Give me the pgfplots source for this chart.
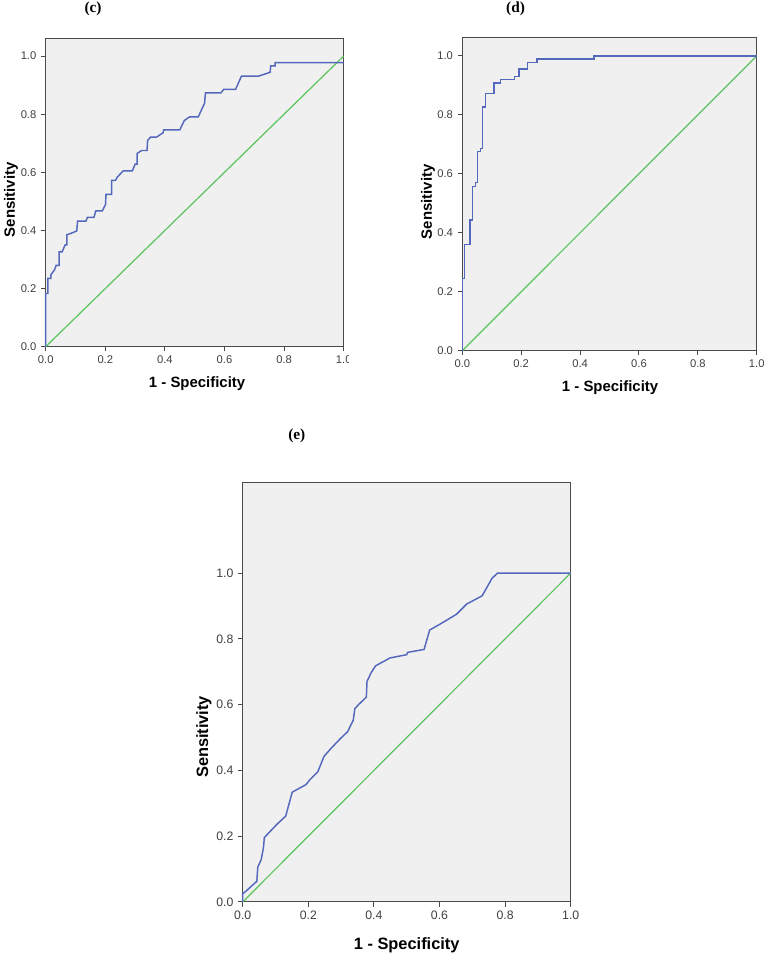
\documentclass[border=0pt]{standalone}
\usepackage{fontspec}
\setmainfont{Liberation Sans}
\newfontfamily\timesf{Liberation Serif}
\usepackage{pgfplots}
\pgfplotsset{compat=1.18}

\definecolor{bgc}{HTML}{F0F0F0}
\definecolor{framec}{HTML}{4A4A4A}
\definecolor{roc}{RGB}{84,104,188}
\definecolor{ref}{RGB}{92,196,92}

\pgfplotsset{
  rocstyle/.style={
    scale only axis,
    xmin=0, xmax=1, ymin=0,
    xtick={0,0.2,0.4,0.6,0.8,1},
    xticklabels={0.0,0.2,0.4,0.6,0.8,1.0},
    ytick={0,0.2,0.4,0.6,0.8,1},
    yticklabels={0.0,0.2,0.4,0.6,0.8,1.0},
    axis background/.style={fill=bgc},
    axis line style={draw=framec, line width=0.75pt},
    tick style={draw=framec, line width=0.75pt},
    tick align=outside, tick pos=left,
    major tick length=3.5pt,
    ticklabel style={text=black!75},
    clip=false,
    xlabel={1 - Specificity},
    ylabel={Sensitivity},
    xlabel style={anchor=center, font=\fontsize{11.2}{13}\selectfont\bfseries},
    ylabel style={anchor=center, rotate=0, font=\fontsize{11.2}{13}\selectfont\bfseries},
    every axis title shift=0pt,
    title style={anchor=center, font=\fontsize{11.5}{13}\selectfont\timesf\bfseries},
  },
  rocline/.style={color=roc, line width=1.1pt},
  refline/.style={color=ref, line width=0.9pt},
}

\begin{document}
\begin{tikzpicture}
\path[use as bounding box] (0,0) rectangle (573.75pt,718.5pt);

% (c)
\begin{axis}[rocstyle,
  at={(34.28pt,458.48pt)}, anchor=south west,
  width=223.5pt, height=231.3pt, ymax=1.061,
  ticklabel style={font=\fontsize{8.4}{9}\selectfont},
  title={(c)},
  title style={at={(axis description cs:0.159,1.095)}},
  xlabel style={at={(axis description cs:0.508,-0.121)}},
  ylabel style={at={(axis description cs:-0.116,0.476)}},
]
\addplot[refline] coordinates {(0,0) (1,1)};
\addplot[rocline] coordinates {
(0,0) (0,0.183) (0.007,0.183) (0.007,0.235) (0.017,0.235) (0.017,0.247)
(0.030,0.265) (0.035,0.280) (0.045,0.280) (0.045,0.326) (0.055,0.326)
(0.065,0.350) (0.071,0.350) (0.071,0.385) (0.085,0.390) (0.104,0.398)
(0.107,0.432) (0.135,0.432) (0.140,0.445) (0.162,0.445) (0.168,0.467)
(0.190,0.467) (0.201,0.490) (0.202,0.524) (0.221,0.524) (0.221,0.572)
(0.234,0.572) (0.240,0.583) (0.260,0.605) (0.291,0.605) (0.300,0.628)
(0.307,0.628) (0.307,0.665) (0.322,0.675) (0.340,0.675) (0.342,0.710)
(0.352,0.721) (0.372,0.721) (0.394,0.736) (0.396,0.746) (0.450,0.746)
(0.465,0.778) (0.483,0.791) (0.512,0.791) (0.533,0.837) (0.536,0.873)
(0.588,0.873) (0.597,0.885) (0.637,0.885) (0.657,0.931) (0.715,0.931)
(0.753,0.944) (0.755,0.966) (0.770,0.966) (0.770,0.977) (1.000,0.977)
};
\end{axis}
% the 1.0 label of (c) is cut off in the original
\fill[white] (261.4pt,437pt) rectangle (274pt,456pt);

% (d)
\begin{axis}[rocstyle,
  at={(346.73pt,455.48pt)}, anchor=south west,
  width=220.8pt, height=234.75pt, ymax=1.062,
  ticklabel style={font=\fontsize{8.4}{9}\selectfont},
  title={(d)},
  title style={at={(axis description cs:0.181,1.092)}},
  xlabel style={at={(axis description cs:0.502,-0.119)}},
  ylabel style={at={(axis description cs:-0.1165,0.476)}},
]
\addplot[refline] coordinates {(0,0) (1,1)};
\addplot[rocline] coordinates {
(0,0) (0,0.245) (0.008,0.245) (0.008,0.361) (0.026,0.361) (0.026,0.443)
(0.034,0.443) (0.034,0.557) (0.045,0.557) (0.045,0.570) (0.052,0.570)
(0.052,0.675) (0.062,0.675) (0.062,0.686) (0.069,0.686) (0.069,0.827)
(0.078,0.827) (0.078,0.873) (0.107,0.873) (0.107,0.908) (0.130,0.908)
(0.130,0.921) (0.177,0.921) (0.177,0.931) (0.193,0.931) (0.193,0.955)
(0.221,0.955) (0.221,0.977) (0.253,0.977) (0.253,0.989) (0.447,0.989)
(0.447,1.000) (1,1)
};
\end{axis}

% (e)
\begin{axis}[rocstyle,
  at={(182.03pt,42pt)}, anchor=south west,
  width=246pt, height=314.25pt, ymax=1.274,
  ticklabel style={font=\fontsize{9.2}{10}\selectfont},
  title={(e)},
  title style={at={(axis description cs:0.165,1.113)}},
  xlabel style={at={(axis description cs:0.5,-0.103)}, font=\fontsize{12.3}{14}\selectfont\bfseries},
  ylabel style={at={(axis description cs:-0.118,0.394)}, font=\fontsize{12.3}{14}\selectfont\bfseries},
]
\addplot[refline] coordinates {(0,0) (1,1)};
\addplot[rocline] coordinates {
(0,0) (0,0.025) (0.010,0.033) (0.043,0.063) (0.046,0.106) (0.056,0.128)
(0.063,0.163) (0.066,0.196) (0.104,0.236) (0.131,0.261) (0.151,0.334)
(0.193,0.357) (0.205,0.372) (0.229,0.396) (0.248,0.443) (0.271,0.469)
(0.297,0.496) (0.320,0.518) (0.337,0.553) (0.342,0.588) (0.353,0.600)
(0.377,0.623) (0.379,0.671) (0.392,0.698) (0.405,0.718) (0.449,0.742)
(0.500,0.752) (0.503,0.759) (0.553,0.768) (0.570,0.827) (0.602,0.845)
(0.627,0.860) (0.652,0.875) (0.683,0.906) (0.730,0.931) (0.760,0.984)
(0.777,1.000) (1,1)
};
\end{axis}
\end{tikzpicture}
\end{document}
